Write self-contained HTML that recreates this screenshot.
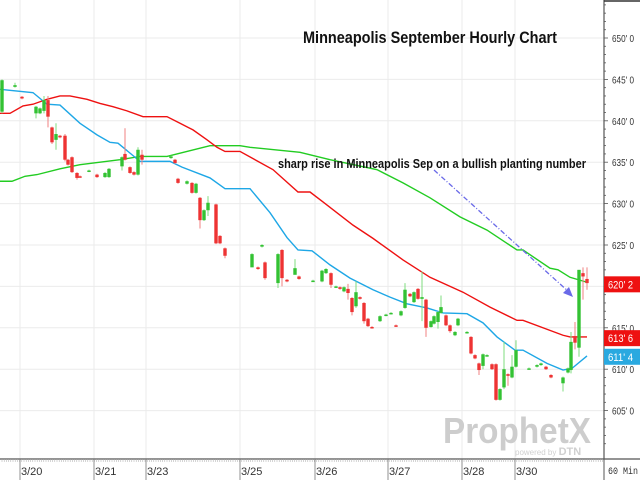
<!DOCTYPE html>
<html><head><meta charset="utf-8"><style>
html,body{margin:0;padding:0;background:#fff;width:640px;height:480px;overflow:hidden}
svg{display:block;font-family:"Liberation Sans Narrow","Liberation Sans",sans-serif}
</style></head><body>
<svg id="chart" width="640" height="480" viewBox="0 0 640 480">
<g id="grid"></g>
<g id="lines"></g>
<g id="candles"></g>
<g>
<text x="443" y="443" font-family="Liberation Sans,sans-serif" font-weight="bold" font-size="36" fill="#cdcdcd" textLength="148" lengthAdjust="spacingAndGlyphs">ProphetX</text>
<text x="515" y="455" font-family="Liberation Sans,sans-serif" font-size="8" fill="#d0d0d0">powered by <tspan font-weight="bold" font-size="11">DTN</tspan></text>
</g>
<text x="303" y="43" font-weight="bold" font-size="17" fill="#111" textLength="254" lengthAdjust="spacingAndGlyphs">Minneapolis September Hourly Chart</text>
<text x="278" y="168" font-weight="bold" font-size="13" fill="#111" textLength="308" lengthAdjust="spacingAndGlyphs">sharp rise in Minneapolis Sep on a bullish planting number</text>
<line x1="434" y1="170" x2="570" y2="293" stroke="#6a6ae8" stroke-width="1.3" stroke-dasharray="5,2,1,2"/>
<polygon points="573,297 563,293 569,287" fill="#6a6ae8"/>
<g id="axis"></g>
<g id="xaxis"></g>
</svg>
<script>
const priceTicks=[650,645,640,635,630,625,615,610,605];
const tickLabels=["650' 0","645' 0","640' 0","635' 0","630' 0","625' 0","615' 0","610' 0","605' 0"];
const dateTimes=[5,23.5,36.5,60,78.75,97,115.5,128.75];
const dateLabels=["3/20","3/21","3/23","3/25","3/26","3/27","3/28","3/30"];
const candleT=[0.5,3.75,5.5,9,10,11,12,13,14,15,16.25,17,18,19.25,20,22.25,24.25,26.25,27.25,30.5,31.25,32.5,33.5,34.5,35.5,42.75,43.75,44.5,46.75,48,49,50,51,52,54,55,56.25,63,64.5,65.5,66.25,69.5,70.5,71.75,73.75,74.75,78.25,80.5,81.5,82.75,84,85,86,87,88,89,90,91,92,93,95,96.5,97.75,99,100.25,101.25,102.5,103.5,104.5,105.5,106.5,107.75,108.5,109.5,110.25,111.5,112.5,113.75,114.5,116.75,117.75,118.75,119.75,120.75,121.75,123,124,125,126,127,128,129,132.25,134.25,135.25,136.5,137.75,140.75,142,142.75,143.75,144.75,145.75,146.75];
const candleOpen=[641.1,644.1,642.9,640.9,640.9,641.2,642.5,639.2,637.7,638.2,638.2,635.3,635.6,633.7,633.3,633.9,633.5,633.2,633.2,634.5,636.0,634.4,633.8,633.5,635.9,635.5,635.3,633.0,632.4,632.5,631.3,630.7,628.0,629.2,629.9,626.1,624.6,622.3,622.3,624.8,622.9,620.4,624.4,620.8,621.4,621.2,620.6,620.6,621.6,621.6,619.9,619.9,619.4,619.7,618.6,617.6,618.7,618.0,616.1,615.1,615.8,616.5,616.7,615.3,616.5,617.4,619.1,618.1,619.7,618.5,618.4,615.1,615.5,615.7,616.8,616.5,615.3,614.1,615.3,614.4,613.9,611.7,610.7,610.4,611.6,610.6,610.6,606.3,607.8,609.4,609.0,610.3,610.0,610.3,610.5,610.3,609.3,608.3,609.6,609.9,614.0,612.6,621.6,620.9];
const candleClose=[644.9,644.3,642.7,641.7,641.5,642.5,640.5,637.4,638.4,638.0,635.3,634.7,633.8,633.1,633.2,634.0,633.2,633.7,634.2,635.6,635.3,633.7,633.5,636.5,635.3,635.7,634.9,632.5,632.7,631.3,632.4,628.0,629.2,630.1,625.2,625.2,623.7,623.9,622.1,625.0,621.0,623.9,621.0,620.6,622.2,620.9,620.7,621.9,622.1,620.2,620.0,619.7,619.9,619.2,616.9,619.3,618.5,615.8,615.2,615.0,616.4,616.6,616.8,615.2,617.0,619.6,618.8,619.3,618.5,618.7,615.0,615.8,616.4,616.9,617.5,615.3,614.6,614.5,616.1,614.5,611.9,611.3,609.9,611.8,611.7,610.0,606.3,607.6,610.0,609.2,610.3,612.3,610.1,610.5,610.7,610.0,609.0,609.0,610.1,613.3,613.2,622.0,621.2,620.4];
const candleHigh=[645.0,644.6,643.0,641.8,641.6,643.0,643.0,639.3,639.7,638.3,638.4,635.4,635.7,633.8,633.4,634.1,633.6,633.8,634.3,635.7,639.1,634.5,633.9,636.8,636.5,635.8,635.4,633.1,632.8,632.6,632.5,630.8,629.3,630.9,630.0,626.2,624.7,624.0,622.4,625.1,623.0,624.0,624.5,620.9,623.3,621.3,620.8,622.0,622.2,621.7,620.1,620.0,620.0,620.3,618.7,620.6,618.8,618.1,616.2,615.2,616.5,616.7,616.9,615.4,617.1,620.4,619.2,619.4,619.8,621.8,618.5,615.9,616.5,617.0,618.9,616.6,615.4,614.6,616.2,614.6,614.0,611.8,610.8,611.9,611.8,610.7,610.7,607.7,613.3,609.5,611.7,613.5,610.2,610.6,610.8,610.4,609.4,609.1,610.2,614.5,615.7,622.0,622.3,622.3];
const candleLow=[640.9,644.0,642.6,640.3,640.8,640.9,639.2,637.2,636.5,637.9,635.1,634.6,633.7,632.9,633.1,633.8,633.1,633.1,633.1,634.0,635.2,633.6,633.4,633.4,634.7,635.4,634.8,632.4,632.3,631.2,631.2,627.0,627.9,628.5,625.1,625.1,623.4,623.8,622.0,624.7,620.8,619.8,620.0,620.5,622.1,620.8,620.6,620.5,621.5,619.8,619.8,619.6,619.3,618.4,616.5,617.4,618.4,615.5,615.1,614.9,615.7,616.4,616.6,615.1,616.4,617.3,618.7,618.0,618.4,615.8,613.9,615.0,615.4,614.9,616.7,615.2,614.4,614.0,615.2,614.3,611.8,611.2,609.3,610.0,611.5,609.9,606.2,606.2,607.6,608.0,608.9,610.2,610.0,610.2,610.4,609.9,608.9,607.3,609.5,609.5,612.4,611.5,618.4,619.6];
const blueT=[0,8.25,11.75,15,20,24.25,27.5,29.5,33,35,42.5,45.5,52.5,56.25,62.5,67.5,71.75,74.5,78,82.5,87.5,93.25,97.5,101.75,106.75,110.75,116.75,120.75,124.25,128.75,130.75,136.75,140.75,143,146.75];
const blueV=[643.8,643.4,642.0,641.9,639.7,638.3,637.4,637.3,635.9,635.1,635.1,634.4,633.1,631.8,631.8,628.9,625.9,624.4,624.3,622.6,621.0,619.6,618.7,617.9,617.4,616.8,616.7,615.6,613.9,612.3,612.3,610.7,609.9,610.1,611.6];
const redT=[0,2.5,5.75,8.25,11.75,15,17.5,21.75,25,28.25,31.75,35.75,41.75,45,48.25,51.75,54.25,56.25,60,68.25,74.5,77.5,80.75,88.25,93.25,100.75,107.5,115.75,122.5,129.25,130.75,140.75,142.5,146.75];
const redV=[640.9,640.9,641.8,642.0,642.6,643.0,643.0,642.6,642.1,641.7,641.2,640.5,640.5,639.7,638.9,637.7,636.8,636.3,636.3,634.1,631.4,631.4,630.2,627.4,625.8,623.2,621.1,619.3,617.5,615.9,615.9,614.1,613.9,613.9];
const greenT=[0,3,6.25,9.25,15,20,25,30,35,41.75,46.75,52.5,60,62.5,75,82.5,94.25,100.75,107.5,115,121.75,129.25,130.75,137.5,139.5,142.5,146.75];
const greenV=[632.7,632.7,633.3,633.5,634.2,634.7,635.0,635.3,635.7,635.7,636.3,637.0,637.0,636.8,636.2,635.3,634.1,632.5,630.7,628.4,626.8,624.4,624.4,622.2,622.0,621.1,620.5];
const lastLabels=[["620' 2",620.25,"#ee1111"],["613' 6",613.75,"#ee1111"],["611' 4",611.5,"#29a9e0"]];

const NS="http://www.w3.org/2000/svg";
function X(t){return t*4;}
function Y(p){return 38+(650-p)*8.28;}
function mk(tag,attrs,parent){const e=document.createElementNS(NS,tag);for(const k in attrs)e.setAttribute(k,attrs[k]);parent.appendChild(e);return e;}
const grid=document.getElementById('grid'),lines=document.getElementById('lines'),cg=document.getElementById('candles'),ax=document.getElementById('axis'),xa=document.getElementById('xaxis');
priceTicks.concat([620]).forEach(p=>{const l=mk('line',{x1:0,x2:604,y1:Y(p),y2:Y(p),stroke:'#ebebeb','stroke-width':1},grid);

});
dateTimes.forEach(t=>{const l=mk('line',{x1:X(t),x2:X(t),y1:0,y2:459,stroke:'#ebebeb','stroke-width':1},grid);

});
function poly(T,V,color,name){const pts=T.map((t,i)=>X(t)+','+Y(V[i])).join(' ');const p=mk('polyline',{points:pts,fill:'none',stroke:color,'stroke-width':1.4},lines);

}
poly(greenT,greenV,'#22cc22','ma-green');
poly(redT,redV,'#ee1111','ma-red');
poly(blueT,blueV,'#1ea7e6','ma-blue');
candleT.forEach((t,i)=>{const o=candleOpen[i],c=candleClose[i],up=c>=o;const col=up?'#33c233':'#ee3333';const x=X(t);
const g=mk('g',{},cg);


mk('line',{x1:x,x2:x,y1:Y(candleHigh[i]),y2:Y(candleLow[i]),stroke:up?'#7fdc7f':'#f08080','stroke-width':1},g);
const top=Y(Math.max(o,c)),h=Math.max(1.5,Math.abs(Y(o)-Y(c)));
mk('rect',{x:x-1.7,y:top,width:3.4,height:h,fill:col},g);});
mk('rect',{x:604,y:0,width:36,height:459,fill:'#fff'},ax);
mk('line',{x1:604,x2:604,y1:0,y2:459,stroke:'#333','stroke-width':1},ax);
mk('line',{x1:604,x2:640,y1:1,y2:1,stroke:'#333','stroke-width':1.5},ax);
for(let p=601;p<=654;p++){const l=mk('line',{x1:604,x2:p%5===0?608:606,y1:Y(p),y2:Y(p),stroke:'#555','stroke-width':0.8},ax);

}
priceTicks.forEach((p,i)=>{const t=mk('text',{x:612,y:Y(p)+4,'font-size':10.5,fill:'#333',textLength:22,lengthAdjust:'spacingAndGlyphs'},ax);t.textContent=tickLabels[i];

});
lastLabels.forEach(d=>{const y=Y(d[1]);const r=mk('rect',{x:604,y:y-8,width:36,height:16,fill:d[2]},ax);


const t=mk('text',{x:608,y:y+4,'font-size':11,fill:'#fff',textLength:25,lengthAdjust:'spacingAndGlyphs'},ax);t.textContent=d[0];

});
mk('rect',{x:0,y:459,width:640,height:21,fill:'#fff'},xa);
mk('line',{x1:0,x2:640,y1:459,y2:459,stroke:'#555','stroke-width':1.2},xa);
mk('line',{x1:604,x2:604,y1:459,y2:480,stroke:'#555','stroke-width':1},xa);
for(let x=2;x<604;x+=2.2){mk('line',{x1:x,x2:x,y1:459,y2:462,stroke:'#aaa','stroke-width':0.5},xa);}
dateTimes.forEach((t,i)=>{mk('line',{x1:X(t),x2:X(t),y1:459,y2:480,stroke:'#777','stroke-width':0.8},xa);
const tx=mk('text',{x:X(t)+1,y:475,'font-size':11,fill:'#333'},xa);tx.textContent=dateLabels[i];

});
const iv=mk('text',{x:608,y:474,'font-size':10,fill:'#333','font-family':'Liberation Mono,monospace',textLength:30,lengthAdjust:'spacingAndGlyphs'},xa);iv.textContent='60 Min';


</script>
</body></html>
